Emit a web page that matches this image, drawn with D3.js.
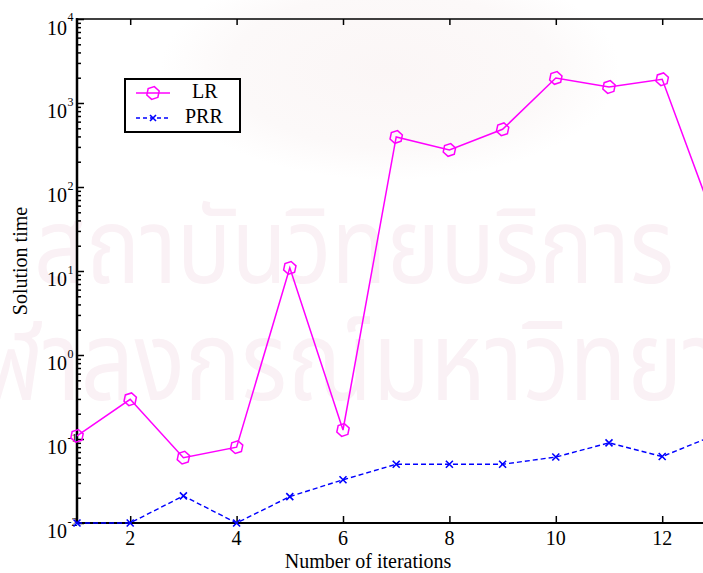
<!DOCTYPE html>
<html>
<head>
<meta charset="utf-8">
<script src="https://cdn.jsdelivr.net/npm/d3@7/dist/d3.min.js"></script>
<style>
  html, body { margin: 0; padding: 0; background: #fff; }
  svg { display: block; font-family: "Liberation Serif", "Times New Roman", serif; }
</style>
</head>
<body>
<svg id="chart" width="703" height="573"></svg>
<script>
// Iteration counts and solution times for the two methods
const iterations = [1, 2, 3, 4, 5, 6, 7, 8, 9, 10, 11, 12, 13];
const lrTimes  = [0.109, 0.297, 0.060, 0.080, 10.9, 0.128, 394, 276, 486, 1986, 1550, 1915, 37];
const prrTimes = [0.010, 0.010, 0.021, 0.010, 0.0206, 0.0327, 0.050, 0.050, 0.050, 0.061, 0.090, 0.0618, 0.112];
const seriesNames = ["LR", "PRR"];
const xTickValues = [2, 4, 6, 8, 10, 12];
const yDecadeExponents = [-2, -1, 0, 1, 2, 3, 4];
const watermarkLines = ["สถาบันวิทยบริการ", "จุฬาลงกรณ์มหาวิทยาลัย"];

const svg = d3.select("#chart");
const W = 703, H = 573;
const plot = { left: 77, top: 19, bottom: 523 };

const x = d3.scaleLinear().domain([1, 13]).range([plot.left, plot.left + 12 * 53.2]);
const y = d3.scaleLog().domain([0.01, 10000]).range([plot.bottom, plot.top]);

// faint background watermark: seal glow and institute name
const defs = svg.append("defs");
const grad = defs.append("radialGradient").attr("id", "seal");
grad.append("stop").attr("offset", "0%").attr("stop-color", "#fbf6f6");
grad.append("stop").attr("offset", "70%").attr("stop-color", "#fcf9f9");
grad.append("stop").attr("offset", "100%").attr("stop-color", "#ffffff");
svg.append("ellipse").attr("cx", 390).attr("cy", 70).attr("rx", 230).attr("ry", 110)
  .attr("fill", "url(#seal)");

const wm = svg.append("g").attr("fill", "#faf1f5")
  .attr("font-family", "'Noto Sans Thai', 'Noto Sans', 'DejaVu Sans', sans-serif");
wm.append("text").attr("x", 354).attr("y", 283).attr("text-anchor", "middle")
  .attr("font-size", 105).attr("textLength", 640).attr("lengthAdjust", "spacingAndGlyphs")
  .text(watermarkLines[0]);
wm.append("text").attr("x", 380).attr("y", 400).attr("text-anchor", "middle")
  .attr("font-size", 110).attr("textLength", 900).attr("lengthAdjust", "spacingAndGlyphs")
  .text(watermarkLines[1]);

// axes
const decadeValues = yDecadeExponents.map(e => Math.pow(10, e));
const minorValues = [];
yDecadeExponents.slice(0, -1).forEach(e => {
  for (let k = 2; k <= 9; k++) minorValues.push(k * Math.pow(10, e));
});

const axisG = svg.append("g");

// left axis: ticks point into the plot
axisG.append("g").attr("transform", `translate(${plot.left},0)`)
  .call(d3.axisRight(y).tickValues(minorValues).tickSize(4).tickFormat(""))
  .call(g => g.select(".domain").remove())
  .call(g => g.selectAll("line").attr("stroke", "#000").attr("stroke-width", 1.5));
axisG.append("g").attr("transform", `translate(${plot.left},0)`)
  .call(d3.axisRight(y).tickValues(decadeValues).tickSize(7).tickFormat(""))
  .call(g => g.select(".domain").remove())
  .call(g => g.selectAll("line").attr("stroke", "#000").attr("stroke-width", 1.5));
axisG.append("line")
  .attr("x1", plot.left).attr("x2", plot.left)
  .attr("y1", plot.top - 1).attr("y2", plot.bottom + 1)
  .attr("stroke", "#000").attr("stroke-width", 2.5);

// bottom axis
axisG.append("g").attr("transform", `translate(0,${plot.bottom})`)
  .call(d3.axisTop(x).tickValues(xTickValues).tickSize(7).tickFormat(""))
  .call(g => g.select(".domain").remove())
  .call(g => g.selectAll("line").attr("stroke", "#000").attr("stroke-width", 1.5));
axisG.append("line")
  .attr("x1", plot.left).attr("x2", W)
  .attr("y1", plot.bottom).attr("y2", plot.bottom)
  .attr("stroke", "#000").attr("stroke-width", 2.2);

// top frame with inward ticks
axisG.append("g").attr("transform", `translate(0,${plot.top})`)
  .call(d3.axisBottom(x).tickValues(xTickValues).tickSize(6).tickFormat(""))
  .call(g => g.select(".domain").remove())
  .call(g => g.selectAll("line").attr("stroke", "#000").attr("stroke-width", 1.5));
axisG.append("line")
  .attr("x1", plot.left).attr("x2", W)
  .attr("y1", plot.top).attr("y2", plot.top)
  .attr("stroke", "#000").attr("stroke-width", 1.6);

// x tick labels
svg.append("g").selectAll("text").data(xTickValues).join("text")
  .attr("x", d => x(d)).attr("y", plot.bottom + 22)
  .attr("text-anchor", "middle").attr("font-size", 20).attr("fill", "#000")
  .text(d => d);

// y tick labels: 10 with superscript exponent
const yl = svg.append("g").selectAll("g").data(yDecadeExponents).join("g")
  .attr("transform", e => `translate(0,${y(Math.pow(10, e))})`);
yl.append("text").attr("x", 67).attr("y", e => e === 4 ? 16 : 14.5).attr("text-anchor", "end")
  .attr("font-size", 20).attr("fill", "#000").text("10");
yl.append("text").attr("x", 67.5).attr("y", e => e === 4 ? 1.5 : 2.5).attr("text-anchor", "start")
  .attr("font-size", 12).attr("fill", "#000").text(e => e);

// axis titles
svg.append("text").attr("x", 368).attr("y", 568).attr("text-anchor", "middle")
  .attr("font-size", 20).attr("fill", "#000").text("Number of iterations");
svg.append("text").attr("transform", "translate(27,261) rotate(-90)")
  .attr("text-anchor", "middle").attr("font-size", 20).attr("fill", "#000")
  .text("Solution time");

// series
const lrData = iterations.map((d, i) => [d, lrTimes[i]]);
const prrData = iterations.map((d, i) => [d, prrTimes[i]]);
const line = d3.line().x(d => x(d[0])).y(d => y(d[1]));

const hexagon = (r) => {
  const pts = d3.range(7).map(i => {
    const a = Math.PI / 6 + i * Math.PI / 3;
    return [r * Math.cos(a), r * Math.sin(a)];
  });
  return d3.line()(pts) + "Z";
};
const cross = (s) => `M${-s},${-s}L${s},${s}M${-s},${s}L${s},${-s}`;

svg.append("path").datum(prrData).attr("d", line)
  .attr("fill", "none").attr("stroke", "#0000ff").attr("stroke-width", 1.4)
  .attr("stroke-dasharray", "5,3");
svg.append("g").selectAll("path").data(prrData).join("path")
  .attr("transform", d => `translate(${x(d[0])},${y(d[1])})`)
  .attr("d", cross(3.5)).attr("stroke", "#0000ff").attr("stroke-width", 1.6).attr("fill", "none");

svg.append("path").datum(lrData).attr("d", line)
  .attr("fill", "none").attr("stroke", "#ff00ff").attr("stroke-width", 1.5);
svg.append("g").selectAll("path").data(lrData).join("path")
  .attr("transform", d => `translate(${x(d[0])},${y(d[1])}) rotate(12)`)
  .attr("d", hexagon(6.5)).attr("stroke", "#ff00ff").attr("stroke-width", 1.5).attr("fill", "none");

// legend
const lg = svg.append("g");
lg.append("rect").attr("x", 125).attr("y", 79).attr("width", 115).attr("height", 53)
  .attr("fill", "#fff").attr("stroke", "#000").attr("stroke-width", 2);
lg.append("line").attr("x1", 136).attr("x2", 170).attr("y1", 93).attr("y2", 93)
  .attr("stroke", "#ff00ff").attr("stroke-width", 1.5);
lg.append("path").attr("transform", "translate(153,93) rotate(12)").attr("d", hexagon(6.5))
  .attr("fill", "none").attr("stroke", "#ff00ff").attr("stroke-width", 1.5);
lg.append("line").attr("x1", 136).attr("x2", 170).attr("y1", 118).attr("y2", 118)
  .attr("stroke", "#0000ff").attr("stroke-width", 1.4).attr("stroke-dasharray", "4,3");
lg.append("path").attr("transform", "translate(153,118)").attr("d", cross(3))
  .attr("fill", "none").attr("stroke", "#0000ff").attr("stroke-width", 1.6);
lg.append("text").attr("x", 192).attr("y", 98).attr("font-size", 20).text(seriesNames[0]);
lg.append("text").attr("x", 185).attr("y", 122.5).attr("font-size", 20).text(seriesNames[1]);
</script>
</body>
</html>
